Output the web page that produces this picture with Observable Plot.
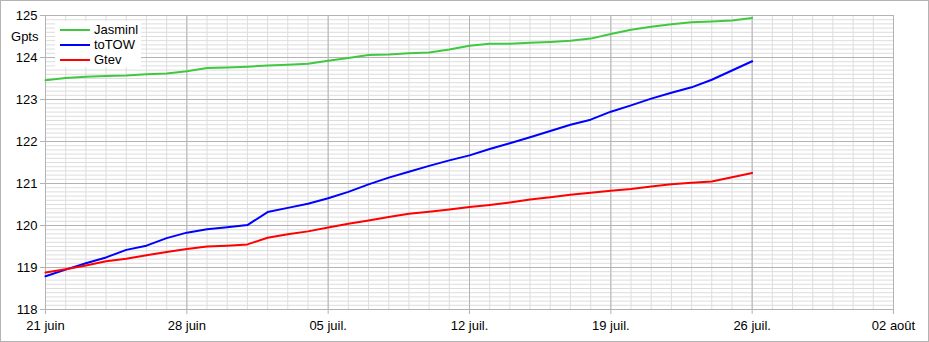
<!DOCTYPE html>
<html><head><meta charset="utf-8">
<script src="https://cdn.jsdelivr.net/npm/d3@7"></script>
<script src="https://cdn.jsdelivr.net/npm/@observablehq/plot@0.6"></script>
<style>
body{margin:0;background:#fff;font-family:"Liberation Sans",Arial,sans-serif;}
#wrap{position:relative;width:929px;height:342px;outline:1px solid #b3b3b3;outline-offset:-1px;overflow:hidden;}
#legend{position:absolute;left:55px;top:21px;width:86px;height:46px;background:#fff;font-size:13px;color:#000;}
.item{position:absolute;left:5px;height:15px;display:flex;align-items:center;}
.sw{width:30px;height:2px;margin-right:4px;}
</style></head>
<body>
<div id="wrap"><div id="chart"></div><div id="legend"></div></div>
<script>
const startDate = "2021-06-21";
const seriesNames = ["Jasminl", "toTOW", "Gtev"];
const seriesColors = ["#40c840", "#0000ff", "#ff0000"];
const jasminl = [123.46,123.51,123.54,123.56,123.57,123.60,123.62,123.67,123.75,123.76,123.78,123.81,123.83,123.85,123.92,123.99,124.06,124.07,124.10,124.12,124.19,124.28,124.33,124.33,124.35,124.37,124.40,124.45,124.56,124.66,124.73,124.79,124.84,124.86,124.88,124.94];
const toTOW = [118.79,118.95,119.10,119.24,119.42,119.52,119.70,119.83,119.91,119.96,120.01,120.32,120.42,120.52,120.65,120.80,120.98,121.14,121.28,121.42,121.55,121.67,121.82,121.96,122.10,122.25,122.40,122.52,122.71,122.86,123.02,123.16,123.29,123.47,123.69,123.91];
const gtev = [118.88,118.96,119.05,119.15,119.21,119.29,119.37,119.44,119.50,119.52,119.55,119.71,119.79,119.86,119.95,120.04,120.12,120.20,120.28,120.33,120.38,120.44,120.49,120.55,120.62,120.67,120.73,120.78,120.83,120.87,120.93,120.98,121.02,121.05,121.15,121.25];
const xTickLabels = ["21 juin","28 juin","05 juil.","12 juil.","19 juil.","26 juil.","02 août"];
const yTicks = [118,119,120,121,122,123,124,125];
const yLabel = "Gpts";

const start = d3.utcParse("%Y-%m-%d")(startDate);
const dates = jasminl.map((_, i) => d3.utcDay.offset(start, i));
const valuesList = [jasminl, toTOW, gtev];
const rows = [];
valuesList.forEach((vals, s) => vals.forEach((v, i) => rows.push({date: dates[i], value: v, name: seriesNames[s]})));
const tickDates = xTickLabels.map((_, i) => d3.utcDay.offset(start, 7 * i));
const labelMap = new Map(tickDates.map((d, i) => [+d, xTickLabels[i]]));
const end = tickDates[tickDates.length - 1];
const dayGrid = d3.utcDay.range(start, d3.utcDay.offset(end, 1));
const minorY = d3.range(yTicks[0] * 10, yTicks[yTicks.length - 1] * 10 + 1).map(d => d / 10);

const chart = Plot.plot({
  width: 929, height: 342,
  marginLeft: 45, marginRight: 36, marginTop: 15, marginBottom: 33,
  style: {fontFamily: "'Liberation Sans', Arial, sans-serif", fontSize: "13px", color: "#000", background: "transparent"},
  x: {type: "utc", domain: [start, end]},
  y: {domain: [yTicks[0], yTicks[yTicks.length - 1]]},
  color: {domain: seriesNames, range: seriesColors},
  marks: [
    Plot.ruleY(minorY, {stroke: "#dddddd", strokeWidth: 1}),
    Plot.ruleX(dayGrid, {stroke: "#dddddd", strokeWidth: 1}),
    Plot.ruleY(yTicks, {stroke: "#b3b3b3", strokeWidth: 1}),
    Plot.ruleX(tickDates, {stroke: "#b3b3b3", strokeWidth: 1}),
    Plot.axisY(yTicks, {tickSize: 5, tickPadding: 3, label: null, stroke: "#b3b3b3", fill: "#000", strokeOpacity: 1}),
    Plot.axisX(tickDates, {tickSize: 5, tickPadding: 6, label: null, tickFormat: d => labelMap.get(+d), stroke: "#b3b3b3", fill: "#000", strokeOpacity: 1}),
    Plot.line(rows, {x: "date", y: "value", stroke: "name", strokeWidth: 2}),
    Plot.text([yLabel], {frameAnchor: "top-left", textAnchor: "end", dx: -7, dy: 16, fill: "#000"})
  ]
});
document.getElementById("chart").appendChild(chart);

const legend = document.getElementById("legend");
seriesNames.forEach((n, i) => {
  const it = document.createElement("div");
  it.className = "item";
  it.style.top = (1 + 15 * i) + "px";
  const sw = document.createElement("div");
  sw.className = "sw";
  sw.style.background = seriesColors[i];
  const t = document.createElement("span");
  t.textContent = n;
  it.appendChild(sw); it.appendChild(t);
  legend.appendChild(it);
});
</script>
</body></html>
